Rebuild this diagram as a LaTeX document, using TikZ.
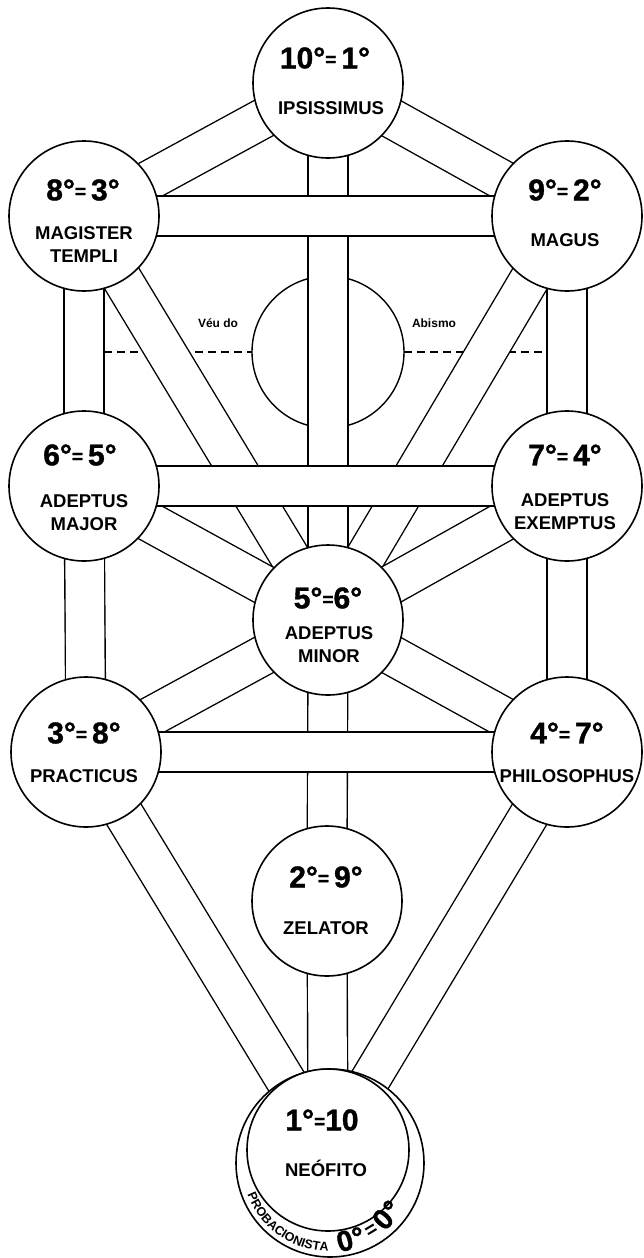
\documentclass[tikz,border=0pt]{standalone}
\usepackage{fontspec}
\setmainfont{Liberation Sans}
\newfontfamily\heavyfont{Liberation Sans}[BoldFeatures={FakeBold=1.2}]
\usetikzlibrary{backgrounds,decorations.text}
\tikzset{
  sephira/.style={circle, draw, line width=1.6pt, fill=white, minimum size=150pt, inner sep=0pt},
  grade/.style={font=\heavyfont\fontsize{30}{30}\selectfont\bfseries, inner sep=0pt},
  title/.style={font=\fontsize{18.5}{23}\selectfont\bfseries, align=center, inner sep=0pt},
  small label/.style={font=\fontsize{12}{12}\selectfont\bfseries, inner sep=0pt},
  zero/.style={font=\heavyfont\fontsize{29}{29}\selectfont\bfseries, inner sep=0pt},
  pathout/.style={line width=41.2pt, black},
  pathin/.style={line width=38.4pt, white},
  veil/.style={line width=1.4pt, dash pattern=on 8pt off 5pt},
}
\newcommand\eqs{\raisebox{2.5pt}{\fontsize{19}{19}\selectfont =}}
\newcommand\probfont{\fontsize{12.5}{12.5}\selectfont\bfseries}
\newcommand\channel[2]{\draw[pathout] (#1.center) -- (#2.center); \draw[pathin] (#1.center) -- (#2.center);}
\begin{document}
\begin{tikzpicture}[x=1pt,y=1pt]
\useasboundingbox (0,0) rectangle (643,-1258);
% sephiroth
\node[sephira] (kether) at (328,-83) {};
\node[sephira] (binah) at (84,-216) {};
\node[sephira] (chokmah) at (567,-216) {};
\node[sephira] (geburah) at (84,-486) {};
\node[sephira] (chesed) at (567,-486) {};
\node[sephira] (tiphareth) at (328,-620) {};
\node[sephira] (hod) at (86,-752) {};
\node[sephira] (netzach) at (567,-752) {};
\node[sephira] (yesod) at (327,-901) {};
\node[sephira, minimum size=188pt] (probac) at (330,-1163) {};
\node[sephira, minimum size=162pt] (malkuth) at (328,-1150) {};
\coordinate (daath) at (328,-352);
\coordinate (veilL1) at (104,-352);
\coordinate (veilL2) at (252,-352);
\coordinate (veilR1) at (404,-352);
\coordinate (veilR2) at (548,-352);
\begin{scope}[on background layer]
  \draw[line width=1.4pt] (daath) circle[radius=76];
  \draw[veil] (veilL1) -- (veilL2);
  \draw[veil] (veilR1) -- (veilR2);
  \channel{kether}{binah}
  \channel{kether}{chokmah}
  \channel{kether}{tiphareth}
  \channel{binah}{tiphareth}
  \channel{chokmah}{tiphareth}
  \channel{binah}{geburah}
  \channel{chokmah}{chesed}
  \channel{geburah}{tiphareth}
  \channel{chesed}{tiphareth}
  \channel{geburah}{hod}
  \channel{chesed}{netzach}
  \channel{tiphareth}{hod}
  \channel{tiphareth}{netzach}
  \channel{tiphareth}{yesod}
  \channel{hod}{malkuth}
  \channel{netzach}{malkuth}
  \channel{yesod}{malkuth}
  \channel{binah}{chokmah}
  \channel{geburah}{chesed}
  \channel{hod}{netzach}
\end{scope}
% labels
\node[grade] (kg) at (325,-58) {10°\eqs\,1°};
\node[title] (kt) at (331,-108) {IPSISSIMUS};
\node[grade] (bg) at (83,-190) {8°\eqs\,3°};
\node[title] (bt) at (84,-245) {MAGISTER\\TEMPLI};
\node[grade] (cg) at (565,-190) {9°\eqs\,2°};
\node[title] (ct) at (565,-240) {MAGUS};
\node[grade] (gg) at (80,-455) {6°\eqs\,5°};
\node[title] (gt) at (84,-513) {ADEPTUS\\MAJOR};
\node[grade] (hg) at (565,-455) {7°\eqs\,4°};
\node[title] (ht) at (565,-512) {ADEPTUS\\EXEMPTUS};
\node[grade] (tg) at (328,-598) {5°\eqs6°};
\node[title] (tt) at (329,-645) {ADEPTUS\\MINOR};
\node[grade] (og) at (84,-733) {3°\eqs\,8°};
\node[title] (ot) at (84,-776) {PRACTICUS};
\node[grade] (ng) at (567,-733) {4°\eqs\,7°};
\node[title] (nt) at (567,-776) {PHILOSOPHUS};
\node[grade] (yg) at (326,-877) {2°\eqs\,9°};
\node[title] (yt) at (326,-928) {ZELATOR};
\node[grade] (mg) at (322,-1120) {1°\eqs10};
\node[title] (mt) at (326,-1168) {NEÓFITO};
\node[small label] (veu) at (218,-323) {Véu do};
\node[small label] (abismo) at (434,-323) {Abismo};
% probacionista
\path[decorate, decoration={text along path, text={|\probfont|PROBACIONISTA}, text align=left}]
  (probac.center) ++(201:88.5) arc[start angle=201, end angle=285, radius=88.5];
\node[zero, rotate=15, anchor=base] (z1) at ([shift={(285:89)}]probac.center) {0°};
\node[zero, rotate=31, anchor=base, font=\fontsize{20}{20}\selectfont\bfseries] (z2) at ([shift={(301.5:85)}]probac.center) {=};
\node[zero, rotate=47, anchor=base] (z3) at ([shift={(317.5:87)}]probac.center) {0°};
\end{tikzpicture}
\end{document}
